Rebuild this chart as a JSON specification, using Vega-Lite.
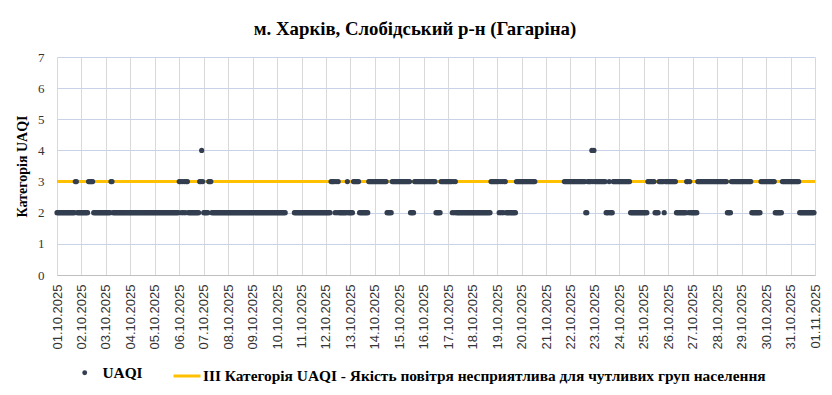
{
"$schema": "https://vega.github.io/schema/vega-lite/v6.json",
"width": 758, "height": 218,
"autosize": {"type": "none"},
"padding": {"left": 57, "top": 57, "right": 17, "bottom": 120},
"background": "white",
"config": {"view": {"stroke": null}},
"title": {"text": "м. Харків, Слобідський р-н (Гагаріна)", "font": "Liberation Serif", "fontSize": 18.8, "fontWeight": "bold", "color": "#000000", "anchor": "middle", "dx": -21, "offset": 12},
"data": {"values": [
{"t":"2025-10-01 00","v":2},{"t":"2025-10-01 01","v":2},{"t":"2025-10-01 02","v":2},{"t":"2025-10-01 03","v":2},{"t":"2025-10-01 04","v":2},{"t":"2025-10-01 05","v":2},{"t":"2025-10-01 06","v":2},{"t":"2025-10-01 07","v":2},{"t":"2025-10-01 08","v":2},{"t":"2025-10-01 09","v":2},{"t":"2025-10-01 10","v":2},{"t":"2025-10-01 11","v":2},{"t":"2025-10-01 12","v":2},{"t":"2025-10-01 13","v":2},{"t":"2025-10-01 14","v":2},{"t":"2025-10-01 15","v":2},{"t":"2025-10-01 16","v":2},{"t":"2025-10-01 17","v":2},{"t":"2025-10-01 18","v":3},{"t":"2025-10-01 19","v":3},{"t":"2025-10-01 20","v":2},{"t":"2025-10-01 21","v":2},{"t":"2025-10-01 22","v":2},{"t":"2025-10-01 23","v":2},
{"t":"2025-10-02 00","v":2},{"t":"2025-10-02 01","v":2},{"t":"2025-10-02 02","v":2},{"t":"2025-10-02 03","v":2},{"t":"2025-10-02 04","v":2},{"t":"2025-10-02 05","v":2},{"t":"2025-10-02 06","v":2},{"t":"2025-10-02 07","v":3},{"t":"2025-10-02 08","v":3},{"t":"2025-10-02 09","v":3},{"t":"2025-10-02 10","v":3},{"t":"2025-10-02 11","v":3},{"t":"2025-10-02 12","v":2},{"t":"2025-10-02 13","v":2},{"t":"2025-10-02 14","v":2},{"t":"2025-10-02 15","v":2},{"t":"2025-10-02 16","v":2},{"t":"2025-10-02 17","v":2},{"t":"2025-10-02 18","v":2},{"t":"2025-10-02 19","v":2},{"t":"2025-10-02 20","v":2},{"t":"2025-10-02 21","v":2},{"t":"2025-10-02 22","v":2},{"t":"2025-10-02 23","v":2},
{"t":"2025-10-03 00","v":2},{"t":"2025-10-03 01","v":2},{"t":"2025-10-03 02","v":2},{"t":"2025-10-03 03","v":2},{"t":"2025-10-03 04","v":2},{"t":"2025-10-03 05","v":3},{"t":"2025-10-03 06","v":3},{"t":"2025-10-03 07","v":2},{"t":"2025-10-03 08","v":2},{"t":"2025-10-03 09","v":2},{"t":"2025-10-03 10","v":2},{"t":"2025-10-03 11","v":2},{"t":"2025-10-03 12","v":2},{"t":"2025-10-03 13","v":2},{"t":"2025-10-03 14","v":2},{"t":"2025-10-03 15","v":2},{"t":"2025-10-03 16","v":2},{"t":"2025-10-03 17","v":2},{"t":"2025-10-03 18","v":2},{"t":"2025-10-03 19","v":2},{"t":"2025-10-03 20","v":2},{"t":"2025-10-03 21","v":2},{"t":"2025-10-03 22","v":2},{"t":"2025-10-03 23","v":2},
{"t":"2025-10-04 00","v":2},{"t":"2025-10-04 01","v":2},{"t":"2025-10-04 02","v":2},{"t":"2025-10-04 03","v":2},{"t":"2025-10-04 04","v":2},{"t":"2025-10-04 05","v":2},{"t":"2025-10-04 06","v":2},{"t":"2025-10-04 07","v":2},{"t":"2025-10-04 08","v":2},{"t":"2025-10-04 09","v":2},{"t":"2025-10-04 10","v":2},{"t":"2025-10-04 11","v":2},{"t":"2025-10-04 12","v":2},{"t":"2025-10-04 13","v":2},{"t":"2025-10-04 14","v":2},{"t":"2025-10-04 15","v":2},{"t":"2025-10-04 16","v":2},{"t":"2025-10-04 17","v":2},{"t":"2025-10-04 18","v":2},{"t":"2025-10-04 19","v":2},{"t":"2025-10-04 20","v":2},{"t":"2025-10-04 21","v":2},{"t":"2025-10-04 22","v":2},{"t":"2025-10-04 23","v":2},
{"t":"2025-10-05 00","v":2},{"t":"2025-10-05 01","v":2},{"t":"2025-10-05 02","v":2},{"t":"2025-10-05 03","v":2},{"t":"2025-10-05 04","v":2},{"t":"2025-10-05 05","v":2},{"t":"2025-10-05 06","v":2},{"t":"2025-10-05 07","v":2},{"t":"2025-10-05 08","v":2},{"t":"2025-10-05 09","v":2},{"t":"2025-10-05 10","v":2},{"t":"2025-10-05 11","v":2},{"t":"2025-10-05 12","v":2},{"t":"2025-10-05 13","v":2},{"t":"2025-10-05 14","v":2},{"t":"2025-10-05 15","v":2},{"t":"2025-10-05 16","v":2},{"t":"2025-10-05 17","v":2},{"t":"2025-10-05 18","v":2},{"t":"2025-10-05 19","v":2},{"t":"2025-10-05 20","v":2},{"t":"2025-10-05 21","v":2},{"t":"2025-10-05 22","v":2},{"t":"2025-10-05 23","v":2},
{"t":"2025-10-06 00","v":3},{"t":"2025-10-06 01","v":3},{"t":"2025-10-06 02","v":2},{"t":"2025-10-06 03","v":3},{"t":"2025-10-06 04","v":2},{"t":"2025-10-06 05","v":3},{"t":"2025-10-06 06","v":2},{"t":"2025-10-06 07","v":3},{"t":"2025-10-06 08","v":3},{"t":"2025-10-06 09","v":2},{"t":"2025-10-06 10","v":2},{"t":"2025-10-06 11","v":2},{"t":"2025-10-06 12","v":2},{"t":"2025-10-06 13","v":2},{"t":"2025-10-06 14","v":2},{"t":"2025-10-06 15","v":2},{"t":"2025-10-06 16","v":2},{"t":"2025-10-06 17","v":2},{"t":"2025-10-06 18","v":2},{"t":"2025-10-06 19","v":2},{"t":"2025-10-06 20","v":3},{"t":"2025-10-06 21","v":3},{"t":"2025-10-06 22","v":4},{"t":"2025-10-06 23","v":3},
{"t":"2025-10-07 00","v":2},{"t":"2025-10-07 01","v":2},{"t":"2025-10-07 02","v":2},{"t":"2025-10-07 03","v":2},{"t":"2025-10-07 04","v":2},{"t":"2025-10-07 05","v":3},{"t":"2025-10-07 06","v":3},{"t":"2025-10-07 07","v":3},{"t":"2025-10-07 08","v":2},{"t":"2025-10-07 09","v":2},{"t":"2025-10-07 10","v":2},{"t":"2025-10-07 11","v":2},{"t":"2025-10-07 12","v":2},{"t":"2025-10-07 13","v":2},{"t":"2025-10-07 14","v":2},{"t":"2025-10-07 15","v":2},{"t":"2025-10-07 16","v":2},{"t":"2025-10-07 17","v":2},{"t":"2025-10-07 18","v":2},{"t":"2025-10-07 19","v":2},{"t":"2025-10-07 20","v":2},{"t":"2025-10-07 21","v":2},{"t":"2025-10-07 22","v":2},{"t":"2025-10-07 23","v":2},
{"t":"2025-10-08 00","v":2},{"t":"2025-10-08 01","v":2},{"t":"2025-10-08 02","v":2},{"t":"2025-10-08 03","v":2},{"t":"2025-10-08 04","v":2},{"t":"2025-10-08 05","v":2},{"t":"2025-10-08 06","v":2},{"t":"2025-10-08 07","v":2},{"t":"2025-10-08 08","v":2},{"t":"2025-10-08 09","v":2},{"t":"2025-10-08 10","v":2},{"t":"2025-10-08 11","v":2},{"t":"2025-10-08 12","v":2},{"t":"2025-10-08 13","v":2},{"t":"2025-10-08 14","v":2},{"t":"2025-10-08 15","v":2},{"t":"2025-10-08 16","v":2},{"t":"2025-10-08 17","v":2},{"t":"2025-10-08 18","v":2},{"t":"2025-10-08 19","v":2},{"t":"2025-10-08 20","v":2},{"t":"2025-10-08 21","v":2},{"t":"2025-10-08 22","v":2},{"t":"2025-10-08 23","v":2},
{"t":"2025-10-09 00","v":2},{"t":"2025-10-09 01","v":2},{"t":"2025-10-09 02","v":2},{"t":"2025-10-09 03","v":2},{"t":"2025-10-09 04","v":2},{"t":"2025-10-09 05","v":2},{"t":"2025-10-09 06","v":2},{"t":"2025-10-09 07","v":2},{"t":"2025-10-09 08","v":2},{"t":"2025-10-09 09","v":2},{"t":"2025-10-09 10","v":2},{"t":"2025-10-09 11","v":2},{"t":"2025-10-09 12","v":2},{"t":"2025-10-09 13","v":2},{"t":"2025-10-09 14","v":2},{"t":"2025-10-09 15","v":2},{"t":"2025-10-09 16","v":2},{"t":"2025-10-09 17","v":2},{"t":"2025-10-09 18","v":2},{"t":"2025-10-09 19","v":2},{"t":"2025-10-09 20","v":2},{"t":"2025-10-09 21","v":2},{"t":"2025-10-09 22","v":2},{"t":"2025-10-09 23","v":2},
{"t":"2025-10-10 00","v":2},{"t":"2025-10-10 01","v":2},{"t":"2025-10-10 02","v":2},{"t":"2025-10-10 03","v":2},{"t":"2025-10-10 04","v":2},{"t":"2025-10-10 05","v":2},{"t":"2025-10-10 06","v":2},{"t":"2025-10-10 07","v":2},{"t":"2025-10-10 08","v":2},{"t":"2025-10-10 17","v":2},{"t":"2025-10-10 18","v":2},{"t":"2025-10-10 19","v":2},{"t":"2025-10-10 20","v":2},{"t":"2025-10-10 21","v":2},{"t":"2025-10-10 22","v":2},{"t":"2025-10-10 23","v":2},
{"t":"2025-10-11 00","v":2},{"t":"2025-10-11 01","v":2},{"t":"2025-10-11 02","v":2},{"t":"2025-10-11 03","v":2},{"t":"2025-10-11 04","v":2},{"t":"2025-10-11 05","v":2},{"t":"2025-10-11 06","v":2},{"t":"2025-10-11 07","v":2},{"t":"2025-10-11 08","v":2},{"t":"2025-10-11 09","v":2},{"t":"2025-10-11 10","v":2},{"t":"2025-10-11 11","v":2},{"t":"2025-10-11 12","v":2},{"t":"2025-10-11 13","v":2},{"t":"2025-10-11 14","v":2},{"t":"2025-10-11 15","v":2},{"t":"2025-10-11 16","v":2},{"t":"2025-10-11 17","v":2},{"t":"2025-10-11 18","v":2},{"t":"2025-10-11 19","v":2},{"t":"2025-10-11 20","v":2},{"t":"2025-10-11 21","v":2},{"t":"2025-10-11 22","v":2},{"t":"2025-10-11 23","v":2},
{"t":"2025-10-12 00","v":2},{"t":"2025-10-12 01","v":2},{"t":"2025-10-12 02","v":2},{"t":"2025-10-12 03","v":2},{"t":"2025-10-12 04","v":2},{"t":"2025-10-12 05","v":3},{"t":"2025-10-12 06","v":3},{"t":"2025-10-12 07","v":3},{"t":"2025-10-12 08","v":3},{"t":"2025-10-12 09","v":2},{"t":"2025-10-12 10","v":3},{"t":"2025-10-12 11","v":2},{"t":"2025-10-12 12","v":3},{"t":"2025-10-12 13","v":2},{"t":"2025-10-12 14","v":2},{"t":"2025-10-12 15","v":2},{"t":"2025-10-12 16","v":2},{"t":"2025-10-12 17","v":2},{"t":"2025-10-12 18","v":2},{"t":"2025-10-12 19","v":2},{"t":"2025-10-12 20","v":2},{"t":"2025-10-12 21","v":3},{"t":"2025-10-12 22","v":2},{"t":"2025-10-12 23","v":2},
{"t":"2025-10-13 00","v":2},{"t":"2025-10-13 01","v":2},{"t":"2025-10-13 02","v":2},{"t":"2025-10-13 03","v":3},{"t":"2025-10-13 04","v":3},{"t":"2025-10-13 05","v":3},{"t":"2025-10-13 06","v":3},{"t":"2025-10-13 07","v":3},{"t":"2025-10-13 08","v":3},{"t":"2025-10-13 09","v":2},{"t":"2025-10-13 10","v":2},{"t":"2025-10-13 11","v":2},{"t":"2025-10-13 12","v":2},{"t":"2025-10-13 13","v":2},{"t":"2025-10-13 14","v":2},{"t":"2025-10-13 15","v":2},{"t":"2025-10-13 16","v":2},{"t":"2025-10-13 17","v":2},{"t":"2025-10-13 18","v":3},{"t":"2025-10-13 19","v":3},{"t":"2025-10-13 20","v":3},{"t":"2025-10-13 21","v":3},{"t":"2025-10-13 22","v":3},{"t":"2025-10-13 23","v":3},
{"t":"2025-10-14 00","v":3},{"t":"2025-10-14 01","v":3},{"t":"2025-10-14 02","v":3},{"t":"2025-10-14 03","v":3},{"t":"2025-10-14 04","v":3},{"t":"2025-10-14 05","v":3},{"t":"2025-10-14 06","v":3},{"t":"2025-10-14 07","v":3},{"t":"2025-10-14 08","v":3},{"t":"2025-10-14 09","v":3},{"t":"2025-10-14 10","v":3},{"t":"2025-10-14 11","v":3},{"t":"2025-10-14 12","v":2},{"t":"2025-10-14 13","v":2},{"t":"2025-10-14 14","v":2},{"t":"2025-10-14 15","v":2},{"t":"2025-10-14 16","v":2},{"t":"2025-10-14 17","v":3},{"t":"2025-10-14 18","v":3},{"t":"2025-10-14 19","v":3},{"t":"2025-10-14 20","v":3},{"t":"2025-10-14 21","v":3},{"t":"2025-10-14 22","v":3},{"t":"2025-10-14 23","v":3},
{"t":"2025-10-15 00","v":3},{"t":"2025-10-15 01","v":3},{"t":"2025-10-15 02","v":3},{"t":"2025-10-15 03","v":3},{"t":"2025-10-15 04","v":3},{"t":"2025-10-15 05","v":3},{"t":"2025-10-15 06","v":3},{"t":"2025-10-15 07","v":3},{"t":"2025-10-15 08","v":3},{"t":"2025-10-15 09","v":3},{"t":"2025-10-15 10","v":3},{"t":"2025-10-15 11","v":2},{"t":"2025-10-15 12","v":2},{"t":"2025-10-15 13","v":2},{"t":"2025-10-15 14","v":2},{"t":"2025-10-15 15","v":3},{"t":"2025-10-15 16","v":3},{"t":"2025-10-15 17","v":3},{"t":"2025-10-15 18","v":3},{"t":"2025-10-15 19","v":3},{"t":"2025-10-15 20","v":3},{"t":"2025-10-15 21","v":3},{"t":"2025-10-15 22","v":3},{"t":"2025-10-15 23","v":3},
{"t":"2025-10-16 00","v":3},{"t":"2025-10-16 01","v":3},{"t":"2025-10-16 02","v":3},{"t":"2025-10-16 03","v":3},{"t":"2025-10-16 04","v":3},{"t":"2025-10-16 05","v":3},{"t":"2025-10-16 06","v":3},{"t":"2025-10-16 07","v":3},{"t":"2025-10-16 08","v":3},{"t":"2025-10-16 09","v":3},{"t":"2025-10-16 10","v":3},{"t":"2025-10-16 11","v":3},{"t":"2025-10-16 12","v":2},{"t":"2025-10-16 13","v":2},{"t":"2025-10-16 14","v":2},{"t":"2025-10-16 15","v":2},{"t":"2025-10-16 16","v":2},{"t":"2025-10-16 17","v":3},{"t":"2025-10-16 18","v":3},{"t":"2025-10-16 19","v":3},{"t":"2025-10-16 20","v":3},{"t":"2025-10-16 21","v":3},{"t":"2025-10-16 22","v":3},{"t":"2025-10-16 23","v":3},
{"t":"2025-10-17 00","v":3},{"t":"2025-10-17 01","v":3},{"t":"2025-10-17 02","v":3},{"t":"2025-10-17 03","v":3},{"t":"2025-10-17 04","v":2},{"t":"2025-10-17 05","v":3},{"t":"2025-10-17 06","v":2},{"t":"2025-10-17 07","v":3},{"t":"2025-10-17 08","v":2},{"t":"2025-10-17 09","v":2},{"t":"2025-10-17 10","v":2},{"t":"2025-10-17 11","v":2},{"t":"2025-10-17 12","v":2},{"t":"2025-10-17 13","v":2},{"t":"2025-10-17 14","v":2},{"t":"2025-10-17 15","v":2},{"t":"2025-10-17 16","v":2},{"t":"2025-10-17 17","v":2},{"t":"2025-10-17 18","v":2},{"t":"2025-10-17 19","v":2},{"t":"2025-10-17 20","v":2},{"t":"2025-10-17 21","v":2},{"t":"2025-10-17 22","v":2},{"t":"2025-10-17 23","v":2},
{"t":"2025-10-18 00","v":2},{"t":"2025-10-18 01","v":2},{"t":"2025-10-18 02","v":2},{"t":"2025-10-18 03","v":2},{"t":"2025-10-18 04","v":2},{"t":"2025-10-18 05","v":2},{"t":"2025-10-18 06","v":2},{"t":"2025-10-18 07","v":2},{"t":"2025-10-18 08","v":2},{"t":"2025-10-18 09","v":2},{"t":"2025-10-18 10","v":2},{"t":"2025-10-18 11","v":2},{"t":"2025-10-18 12","v":2},{"t":"2025-10-18 13","v":2},{"t":"2025-10-18 14","v":2},{"t":"2025-10-18 15","v":2},{"t":"2025-10-18 16","v":2},{"t":"2025-10-18 17","v":2},{"t":"2025-10-18 18","v":3},{"t":"2025-10-18 19","v":3},{"t":"2025-10-18 20","v":3},{"t":"2025-10-18 21","v":3},{"t":"2025-10-18 22","v":3},{"t":"2025-10-18 23","v":3},
{"t":"2025-10-19 00","v":3},{"t":"2025-10-19 01","v":3},{"t":"2025-10-19 02","v":2},{"t":"2025-10-19 03","v":3},{"t":"2025-10-19 04","v":2},{"t":"2025-10-19 05","v":3},{"t":"2025-10-19 06","v":2},{"t":"2025-10-19 07","v":3},{"t":"2025-10-19 08","v":3},{"t":"2025-10-19 09","v":2},{"t":"2025-10-19 10","v":2},{"t":"2025-10-19 11","v":2},{"t":"2025-10-19 12","v":2},{"t":"2025-10-19 13","v":2},{"t":"2025-10-19 14","v":2},{"t":"2025-10-19 15","v":2},{"t":"2025-10-19 16","v":2},{"t":"2025-10-19 17","v":2},{"t":"2025-10-19 18","v":2},{"t":"2025-10-19 19","v":3},{"t":"2025-10-19 20","v":3},{"t":"2025-10-19 21","v":3},{"t":"2025-10-19 22","v":3},{"t":"2025-10-19 23","v":3},
{"t":"2025-10-20 00","v":3},{"t":"2025-10-20 01","v":3},{"t":"2025-10-20 02","v":3},{"t":"2025-10-20 03","v":3},{"t":"2025-10-20 04","v":3},{"t":"2025-10-20 05","v":3},{"t":"2025-10-20 06","v":3},{"t":"2025-10-20 07","v":3},{"t":"2025-10-20 08","v":3},{"t":"2025-10-20 09","v":3},{"t":"2025-10-20 10","v":3},{"t":"2025-10-20 11","v":3},{"t":"2025-10-20 12","v":3},{"t":"2025-10-20 13","v":3},
{"t":"2025-10-21 18","v":3},{"t":"2025-10-21 19","v":3},{"t":"2025-10-21 20","v":3},{"t":"2025-10-21 21","v":3},{"t":"2025-10-21 22","v":3},{"t":"2025-10-21 23","v":3},
{"t":"2025-10-22 00","v":3},{"t":"2025-10-22 01","v":3},{"t":"2025-10-22 02","v":3},{"t":"2025-10-22 03","v":3},{"t":"2025-10-22 04","v":3},{"t":"2025-10-22 05","v":3},{"t":"2025-10-22 06","v":3},{"t":"2025-10-22 07","v":3},{"t":"2025-10-22 08","v":3},{"t":"2025-10-22 09","v":3},{"t":"2025-10-22 10","v":3},{"t":"2025-10-22 11","v":3},{"t":"2025-10-22 12","v":3},{"t":"2025-10-22 13","v":3},{"t":"2025-10-22 14","v":3},{"t":"2025-10-22 15","v":2},{"t":"2025-10-22 16","v":2},{"t":"2025-10-22 17","v":3},{"t":"2025-10-22 18","v":3},{"t":"2025-10-22 19","v":3},{"t":"2025-10-22 20","v":3},{"t":"2025-10-22 21","v":4},{"t":"2025-10-22 22","v":3},{"t":"2025-10-22 23","v":4},
{"t":"2025-10-23 00","v":3},{"t":"2025-10-23 01","v":3},{"t":"2025-10-23 02","v":3},{"t":"2025-10-23 03","v":3},{"t":"2025-10-23 04","v":3},{"t":"2025-10-23 05","v":3},{"t":"2025-10-23 06","v":3},{"t":"2025-10-23 07","v":3},{"t":"2025-10-23 08","v":3},{"t":"2025-10-23 09","v":3},{"t":"2025-10-23 10","v":3},{"t":"2025-10-23 11","v":2},{"t":"2025-10-23 12","v":2},{"t":"2025-10-23 13","v":2},{"t":"2025-10-23 14","v":3},{"t":"2025-10-23 15","v":2},{"t":"2025-10-23 16","v":2},{"t":"2025-10-23 17","v":2},{"t":"2025-10-23 18","v":3},{"t":"2025-10-23 19","v":3},{"t":"2025-10-23 20","v":3},{"t":"2025-10-23 21","v":3},{"t":"2025-10-23 22","v":3},{"t":"2025-10-23 23","v":3},
{"t":"2025-10-24 00","v":3},{"t":"2025-10-24 01","v":3},{"t":"2025-10-24 02","v":3},{"t":"2025-10-24 03","v":3},{"t":"2025-10-24 04","v":3},{"t":"2025-10-24 05","v":3},{"t":"2025-10-24 06","v":3},{"t":"2025-10-24 07","v":3},{"t":"2025-10-24 08","v":3},{"t":"2025-10-24 09","v":3},{"t":"2025-10-24 10","v":3},{"t":"2025-10-24 11","v":2},{"t":"2025-10-24 12","v":2},{"t":"2025-10-24 13","v":2},{"t":"2025-10-24 14","v":2},{"t":"2025-10-24 15","v":2},{"t":"2025-10-24 16","v":2},{"t":"2025-10-24 17","v":2},{"t":"2025-10-24 18","v":2},{"t":"2025-10-24 19","v":2},{"t":"2025-10-24 20","v":2},{"t":"2025-10-24 21","v":2},{"t":"2025-10-24 22","v":2},{"t":"2025-10-24 23","v":2},
{"t":"2025-10-25 00","v":2},{"t":"2025-10-25 01","v":2},{"t":"2025-10-25 02","v":2},{"t":"2025-10-25 03","v":2},{"t":"2025-10-25 04","v":3},{"t":"2025-10-25 05","v":3},{"t":"2025-10-25 06","v":3},{"t":"2025-10-25 07","v":3},{"t":"2025-10-25 08","v":3},{"t":"2025-10-25 09","v":3},{"t":"2025-10-25 10","v":3},{"t":"2025-10-25 11","v":2},{"t":"2025-10-25 12","v":2},{"t":"2025-10-25 13","v":2},{"t":"2025-10-25 14","v":2},{"t":"2025-10-25 15","v":3},{"t":"2025-10-25 16","v":3},{"t":"2025-10-25 17","v":3},{"t":"2025-10-25 18","v":3},{"t":"2025-10-25 19","v":3},{"t":"2025-10-25 20","v":2},{"t":"2025-10-25 21","v":3},{"t":"2025-10-25 22","v":3},{"t":"2025-10-25 23","v":3},
{"t":"2025-10-26 00","v":3},{"t":"2025-10-26 01","v":3},{"t":"2025-10-26 02","v":3},{"t":"2025-10-26 03","v":3},{"t":"2025-10-26 04","v":3},{"t":"2025-10-26 05","v":3},{"t":"2025-10-26 06","v":3},{"t":"2025-10-26 07","v":3},{"t":"2025-10-26 08","v":2},{"t":"2025-10-26 09","v":2},{"t":"2025-10-26 10","v":2},{"t":"2025-10-26 11","v":2},{"t":"2025-10-26 12","v":2},{"t":"2025-10-26 13","v":2},{"t":"2025-10-26 14","v":2},{"t":"2025-10-26 15","v":2},{"t":"2025-10-26 16","v":2},{"t":"2025-10-26 17","v":2},{"t":"2025-10-26 18","v":3},{"t":"2025-10-26 19","v":3},{"t":"2025-10-26 20","v":2},{"t":"2025-10-26 21","v":3},{"t":"2025-10-26 22","v":2},{"t":"2025-10-26 23","v":2},
{"t":"2025-10-27 00","v":2},{"t":"2025-10-27 01","v":2},{"t":"2025-10-27 02","v":2},{"t":"2025-10-27 03","v":2},{"t":"2025-10-27 04","v":2},{"t":"2025-10-27 05","v":3},{"t":"2025-10-27 06","v":3},{"t":"2025-10-27 07","v":3},{"t":"2025-10-27 08","v":3},{"t":"2025-10-27 09","v":3},{"t":"2025-10-27 10","v":3},{"t":"2025-10-27 11","v":3},{"t":"2025-10-27 12","v":3},{"t":"2025-10-27 13","v":3},{"t":"2025-10-27 14","v":3},{"t":"2025-10-27 15","v":3},{"t":"2025-10-27 16","v":3},{"t":"2025-10-27 17","v":3},{"t":"2025-10-27 18","v":3},{"t":"2025-10-27 19","v":3},{"t":"2025-10-27 20","v":3},{"t":"2025-10-27 21","v":3},{"t":"2025-10-27 22","v":3},{"t":"2025-10-27 23","v":3},
{"t":"2025-10-28 00","v":3},{"t":"2025-10-28 01","v":3},{"t":"2025-10-28 02","v":3},{"t":"2025-10-28 03","v":3},{"t":"2025-10-28 04","v":3},{"t":"2025-10-28 05","v":3},{"t":"2025-10-28 06","v":3},{"t":"2025-10-28 07","v":3},{"t":"2025-10-28 08","v":3},{"t":"2025-10-28 09","v":3},{"t":"2025-10-28 10","v":2},{"t":"2025-10-28 11","v":2},{"t":"2025-10-28 12","v":2},{"t":"2025-10-28 13","v":2},{"t":"2025-10-28 14","v":3},{"t":"2025-10-28 15","v":3},{"t":"2025-10-28 16","v":3},{"t":"2025-10-28 17","v":3},{"t":"2025-10-28 18","v":3},{"t":"2025-10-28 19","v":3},{"t":"2025-10-28 20","v":3},{"t":"2025-10-28 21","v":3},{"t":"2025-10-28 22","v":3},{"t":"2025-10-28 23","v":3},
{"t":"2025-10-29 00","v":3},{"t":"2025-10-29 01","v":3},{"t":"2025-10-29 02","v":3},{"t":"2025-10-29 03","v":3},{"t":"2025-10-29 04","v":3},{"t":"2025-10-29 05","v":3},{"t":"2025-10-29 06","v":3},{"t":"2025-10-29 07","v":3},{"t":"2025-10-29 08","v":3},{"t":"2025-10-29 09","v":3},{"t":"2025-10-29 10","v":2},{"t":"2025-10-29 11","v":2},{"t":"2025-10-29 12","v":2},{"t":"2025-10-29 13","v":2},{"t":"2025-10-29 14","v":2},{"t":"2025-10-29 15","v":2},{"t":"2025-10-29 16","v":2},{"t":"2025-10-29 17","v":2},{"t":"2025-10-29 18","v":2},{"t":"2025-10-29 19","v":3},{"t":"2025-10-29 20","v":3},{"t":"2025-10-29 21","v":3},{"t":"2025-10-29 22","v":3},{"t":"2025-10-29 23","v":3},
{"t":"2025-10-30 00","v":3},{"t":"2025-10-30 01","v":3},{"t":"2025-10-30 02","v":3},{"t":"2025-10-30 03","v":3},{"t":"2025-10-30 04","v":3},{"t":"2025-10-30 05","v":3},{"t":"2025-10-30 06","v":3},{"t":"2025-10-30 07","v":3},{"t":"2025-10-30 08","v":3},{"t":"2025-10-30 09","v":2},{"t":"2025-10-30 10","v":2},{"t":"2025-10-30 11","v":2},{"t":"2025-10-30 12","v":2},{"t":"2025-10-30 13","v":2},{"t":"2025-10-30 14","v":2},{"t":"2025-10-30 15","v":2},{"t":"2025-10-30 16","v":3},{"t":"2025-10-30 17","v":3},{"t":"2025-10-30 18","v":3},{"t":"2025-10-30 19","v":3},{"t":"2025-10-30 20","v":3},{"t":"2025-10-30 21","v":3},{"t":"2025-10-30 22","v":3},{"t":"2025-10-30 23","v":3},
{"t":"2025-10-31 00","v":3},{"t":"2025-10-31 01","v":3},{"t":"2025-10-31 02","v":3},{"t":"2025-10-31 03","v":3},{"t":"2025-10-31 04","v":3},{"t":"2025-10-31 05","v":3},{"t":"2025-10-31 06","v":3},{"t":"2025-10-31 07","v":3},{"t":"2025-10-31 08","v":3},{"t":"2025-10-31 09","v":2},{"t":"2025-10-31 10","v":2},{"t":"2025-10-31 11","v":2},{"t":"2025-10-31 12","v":2},{"t":"2025-10-31 13","v":2},{"t":"2025-10-31 14","v":2},{"t":"2025-10-31 15","v":2},{"t":"2025-10-31 16","v":2},{"t":"2025-10-31 17","v":2},{"t":"2025-10-31 18","v":2},{"t":"2025-10-31 19","v":2},{"t":"2025-10-31 20","v":2},{"t":"2025-10-31 21","v":2},{"t":"2025-10-31 22","v":2},{"t":"2025-10-31 23","v":2}
], "format": {"parse": {"t": "date:'%Y-%m-%d %H'"}}},
"encoding": {
  "x": {"field": "t", "type": "temporal",
        "scale": {"domain": [{"year": 2025, "month": 10, "date": 1}, {"year": 2025, "month": 11, "date": 1}], "nice": false},
        "axis": {"title": null, "format": "%d.%m.%Y", "tickCount": {"interval": "day", "step": 1}, "labelAngle": 270, "labelFlush": false, "labelOverlap": false, "labelFont": "Liberation Sans", "labelFontSize": 13, "labelColor": "#333333", "labelPadding": 9, "ticks": false, "grid": true, "gridColor": "#D9D9D9", "gridWidth": 1, "domain": true, "domainColor": "#BFBFBF", "domainWidth": 1}},
  "y": {"field": "v", "type": "quantitative",
        "scale": {"domain": [0, 7], "nice": false},
        "axis": {"title": "Категорія UAQI", "titleFont": "Liberation Serif", "titleFontSize": 14, "titleFontWeight": "bold", "titleColor": "#000000", "titlePadding": 8, "values": [0,1,2,3,4,5,6,7], "format": "d", "labelFont": "Liberation Serif", "labelFontSize": 13, "labelColor": "#333333", "labelPadding": 13, "ticks": false, "domain": false, "grid": true, "gridColor": "#C9D3E8", "gridWidth": 1}}
},
"layer": [
  {"mark": {"type": "rule", "strokeWidth": 3},
   "encoding": {"x": null, "y": {"datum": 3, "type": "quantitative"},
     "color": {"datum": "III Категорія UAQI - Якість повітря несприятлива для чутливих груп населення", "type": "nominal", "scale": {"range": ["#FFC000"]},
       "legend": {"title": null, "orient": "none", "legendX": 115, "legendY": 304, "padding": 0, "symbolType": "stroke", "symbolSize": 729, "symbolStrokeWidth": 3, "labelOffset": 1, "labelFont": "Liberation Serif", "labelFontSize": 15.4, "labelFontWeight": "bold", "labelColor": "#000000", "labelLimit": 800}}}},
  {"mark": {"type": "point", "filled": true, "size": 27, "opacity": 1, "strokeWidth": 0},
   "encoding": {
     "color": {"datum": "UAQI", "type": "nominal", "scale": {"range": ["#333F50"]},
       "legend": {"title": null, "orient": "none", "legendX": 20, "legendY": 308, "padding": 0, "symbolType": "circle", "symbolSize": 24, "labelOffset": 10, "labelFont": "Liberation Serif", "labelFontSize": 15.4, "labelFontWeight": "bold", "labelColor": "#000000", "labelLimit": 200}}}}
],
"resolve": {"scale": {"color": "independent"}, "legend": {"color": "independent"}}
}
